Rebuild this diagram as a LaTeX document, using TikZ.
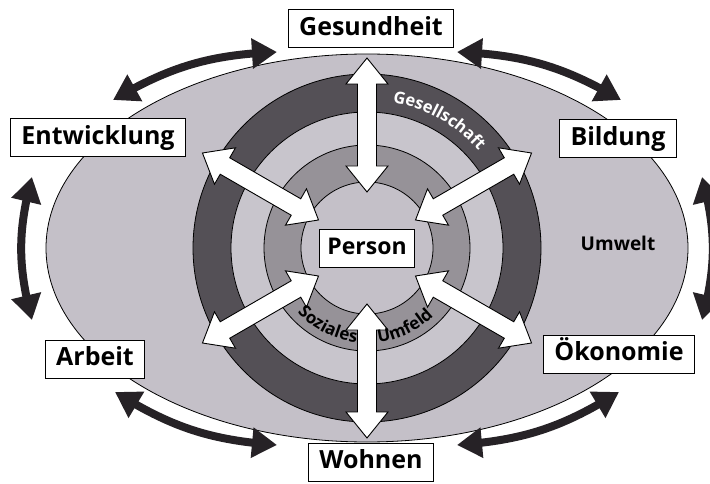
\documentclass[tikz,border=0pt]{standalone}
\usepackage{fontspec}
\setmainfont{Open Sans}
\usetikzlibrary{arrows.meta,bending,decorations.text}

\definecolor{umweltgray}{RGB}{196,192,200}
\definecolor{ringlight}{RGB}{200,197,204}
\definecolor{ringmid}{RGB}{150,146,152}
\definecolor{ringdark}{RGB}{84,80,86}
\definecolor{arcblack}{RGB}{38,34,38}

\tikzset{
  boxlabel/.style={draw, fill=white, line width=1pt, font=\bfseries\fontsize{25}{25}\selectfont,
    inner xsep=11pt, inner ysep=6.5pt, text height=19pt, text depth=6pt},
  ring/.style={draw, line width=0.8pt},
  whitearrow/.style={draw, fill=white, line width=0.9pt},
  linkarrow/.style={arcblack, line width=8pt,
    {Triangle[length=25pt,width=29pt]}-{Triangle[length=25pt,width=29pt]}},
}

\begin{document}
\begin{tikzpicture}[x=1pt,y=1pt]
  \useasboundingbox (0,0) rectangle (710,483);
  \coordinate (c) at (367,235);

  % Umwelt and the rings
  \draw[ring, fill=umweltgray] (c) ellipse [x radius=321pt, y radius=194pt];
  \draw[ring, fill=ringdark] (c) circle (174pt);
  \draw[ring, fill=ringlight] (c) circle (136pt);
  \draw[ring, fill=ringmid] (c) circle (103pt);
  \draw[ring, fill=umweltgray] (c) circle (66pt);

  % white arrows
  \foreach \a in {30,90,...,330}
    \draw[whitearrow, shift={(c)}, rotate=\a] (56,0) -- (82,21) -- (82,9.5) -- (164,9.5)
      -- (164,21) -- (190,0) -- (164,-21) -- (164,-9.5) -- (82,-9.5) -- (82,-21) -- cycle;

  % ring names
  \path[shift={(c)}, decorate, decoration={text along path, text color=white,
      text={|\bfseries\fontsize{16.5}{18}\selectfont|Gesellschaft}}]
    (80:148) arc[start angle=80, end angle=30, radius=148pt];
  \path[shift={(c)}, decorate, decoration={text along path,
      text={|\bfseries\fontsize{17}{18}\selectfont|Soziales}}]
    (223:95) arc[start angle=223, end angle=268, radius=95pt];
  \path[shift={(c)}, decorate, decoration={text along path,
      text={|\bfseries\fontsize{17}{18}\selectfont|Umfeld}}]
    (277:95) arc[start angle=277, end angle=325, radius=95pt];

  % labels
  \node[boxlabel, font=\bfseries\fontsize{23}{23}\selectfont, inner xsep=8pt] (person) at (c) {Person};
  \node[font=\bfseries\fontsize{19}{19}\selectfont] (umwelt) at (618,240) {Umwelt};
  \node[boxlabel] (gesund) at (371,454) {Gesundheit};
  \node[boxlabel] (entw) at (98,345) {Entwicklung};
  \node[boxlabel] (bild) at (618,344) {Bildung};
  \node[boxlabel] (oekon) at (619,129) {Ökonomie};
  \node[boxlabel] (wohnen) at (371,21) {Wohnen};
  \node[boxlabel] (arbeit) at (95,124) {Arbeit};

  % black arrows between the fields
  \coordinate (eg1) at (113,383); \coordinate (eg2) at (277,431);
  \coordinate (gb1) at (457,431); \coordinate (gb2) at (621,383);
  \coordinate (bo1) at (702,306); \coordinate (bo2) at (702,163);
  \coordinate (ow1) at (619,91);  \coordinate (ow2) at (457,38);
  \coordinate (wa1) at (277,38);  \coordinate (wa2) at (115,91);
  \coordinate (ae1) at (32,163);  \coordinate (ae2) at (32,306);
  \draw[linkarrow] (eg1) to[bend left=14] (eg2);
  \draw[linkarrow] (gb1) to[bend left=14] (gb2);
  \draw[linkarrow] (bo1) to[bend left=15] (bo2);
  \draw[linkarrow] (ow1) to[bend left=14] (ow2);
  \draw[linkarrow] (wa1) to[bend left=14] (wa2);
  \draw[linkarrow] (ae1) to[bend left=15] (ae2);
\end{tikzpicture}
\end{document}
